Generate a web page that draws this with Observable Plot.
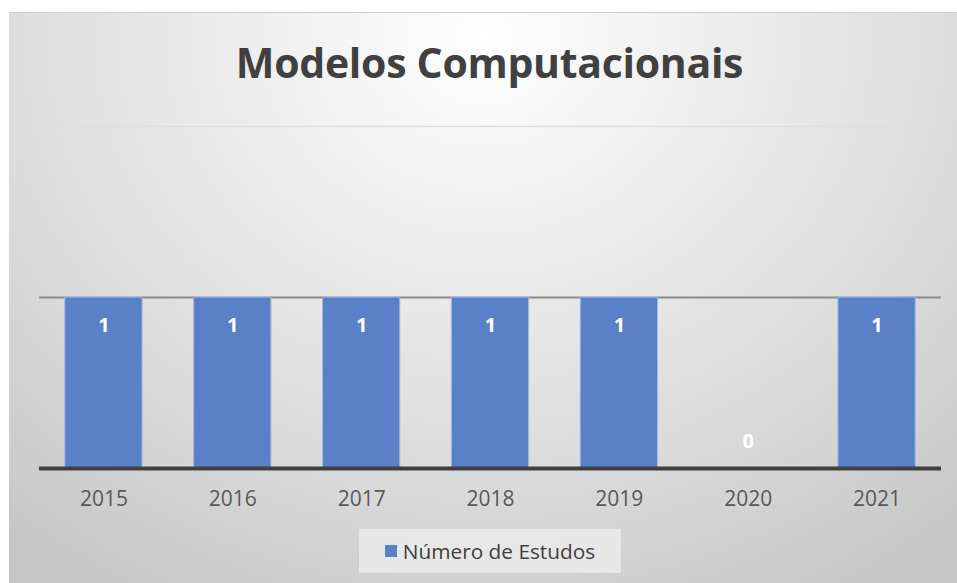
<!DOCTYPE html>
<html>
<head>
<meta charset="utf-8">
<script src="https://cdn.jsdelivr.net/npm/d3@7"></script>
<script src="https://cdn.jsdelivr.net/npm/@observablehq/plot@0.6"></script>
<style>
  html, body { margin: 0; padding: 0; background: #ffffff; width: 957px; height: 583px; overflow: hidden; }
  #chart {
    position: absolute; left: 9px; top: 12px; width: 948px; height: 571px;
    background: radial-gradient(ellipse 78% 115% at 50% 4%, #ffffff 0%, #efefef 30%, #dcdcdc 65%, #c6c6c6 100%);
    font-family: "Open Sans", sans-serif;
    border-top: 1px solid #cfcfcf;
    box-sizing: border-box;
  }
  #title {
    height: 90px; box-sizing: border-box; padding-top: 27px; padding-left: 13px;
    text-align: center; font-size: 41px; line-height: 44px; font-weight: 700; color: #404040;
    letter-spacing: -0.3px;
  }
  #legend {
    margin: 13px 0 0 350px; width: 262px; height: 44px; background: rgba(236,236,236,0.8);
    display: flex; align-items: center; justify-content: center; gap: 6px;
    font-size: 20.8px; color: #404040;
  }
  #legend .sw { width: 12px; height: 12px; background: #5a80c8; }
</style>
</head>
<body>
<div id="chart">
  <div id="title">Modelos Computacionais</div>
  <div id="plot"></div>
  <div id="legend"><span class="sw"></span><span>Número de Estudos</span></div>
</div>
<script>
const years = ["2015", "2016", "2017", "2018", "2019", "2020", "2021"];
const estudos = [1, 1, 1, 1, 1, 0, 1];

const data = years.map((y, i) => ({year: y, value: estudos[i]}));

const chart = Plot.plot({
  width: 948,
  height: 413,
  marginLeft: 30,
  marginRight: 16,
  marginTop: 23,
  marginBottom: 48,
  style: {background: "transparent", fontFamily: "'Open Sans', sans-serif", overflow: "visible"},
  x: {domain: years, paddingInner: 0.4, paddingOuter: 0.2, round: false, label: null},
  y: {domain: [0, 2], axis: null},
  marks: [
    Plot.ruleY([2], {stroke: "#dedede", strokeWidth: 1.5}),
    Plot.ruleY([1], {stroke: "#8a8a8a", strokeWidth: 1.8}),
    Plot.barY(data, {x: "year", y: "value", fill: "#5a80c8", stroke: "#a6bbe4", strokeWidth: 1}),
    Plot.text(data.filter(d => d.value > 0), {x: "year", y: "value", text: d => String(d.value), dy: 28, fill: "#ffffff", fontSize: 20, fontWeight: "bold"}),
    Plot.text(data.filter(d => d.value === 0), {x: "year", y: "value", text: d => String(d.value), dy: -27, fill: "#ffffff", fontSize: 20, fontWeight: "bold"}),
    Plot.ruleY([0], {stroke: "#404040", strokeWidth: 4}),
    Plot.axisX({tickSize: 0, tickPadding: 23, fontSize: 21, color: "#595959", label: null})
  ]
});
document.getElementById("plot").appendChild(chart);
</script>
</body>
</html>
